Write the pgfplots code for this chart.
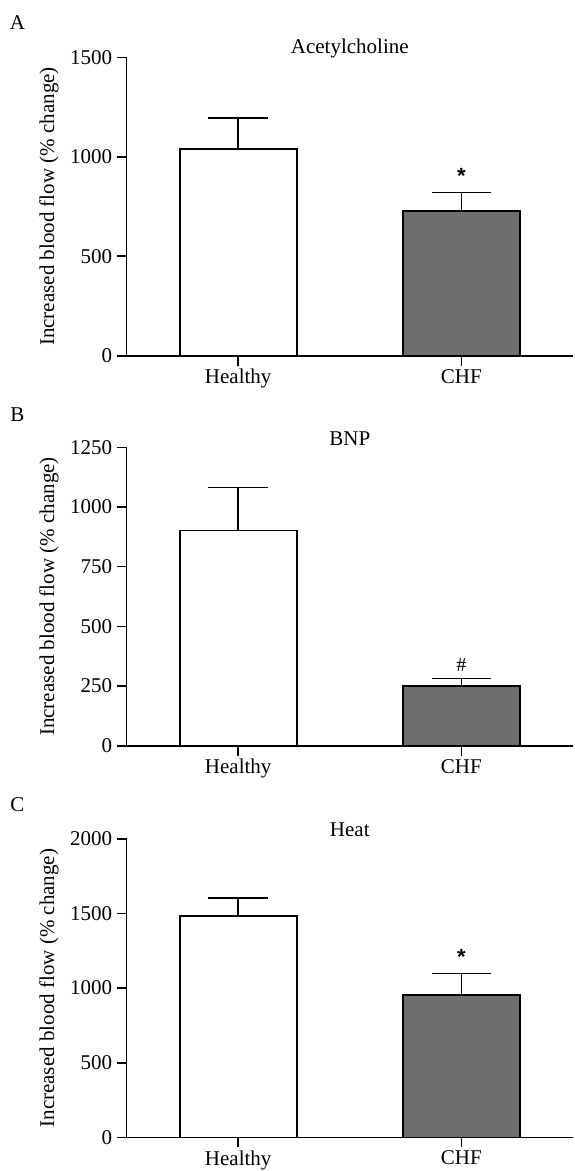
\documentclass[border=0pt]{standalone}
\usepackage{pgfplots}
\pgfplotsset{compat=1.18}
\usepackage{fontspec}
\setmainfont{Liberation Serif}
\newfontfamily\starfont{Liberation Sans}

\definecolor{chfgray}{HTML}{6E6E6E}

\pgfplotsset{
  panel/.style={
    scale only axis,
    width=446.4pt, height=298.4pt,
    xmin=-0.5, xmax=1.5, ymin=0,
    axis x line*=bottom, axis y line*=left,
    axis line style={line width=1.6pt},
    every tick/.style={line width=1.6pt, black},
    tick align=outside, major tick length=10pt,
    xtick={0,1}, xticklabels={Healthy,CHF},
    font=\fontsize{21}{24}\selectfont,
    /pgf/number format/assume math mode=true,
    /pgf/number format/1000 sep={},
    yticklabel style={xshift=-1pt},
    ylabel={Increased blood flow (\% change)},
    ylabel style={at={(axis description cs:-0.1738,0.5)}, anchor=center},
    title style={at={(axis description cs:0.5,1)}, anchor=center, yshift=3pt},
    clip=false,
  },
  hbar/.style={ybar, bar width=117pt, draw=black, line width=1.6pt,
    error bars/.cd, y dir=plus, y explicit,
    error bar style={line width=1.6pt, black},
    error mark options={line width=1.6pt, mark size=29.8pt, black, rotate=90},
    /pgfplots/.cd},
}

\begin{document}
\begin{tikzpicture}
\useasboundingbox (0pt,0pt) rectangle (574pt,-1171pt);

% Panel A
\node[font=\fontsize{21}{24}\selectfont, anchor=center] at (17.5pt,-23pt) {A};
\begin{axis}[panel, at={(126.6pt,-355.7pt)}, anchor=south west,
    ymax=1500, ytick={0,500,1000,1500}, title={Acetylcholine}]
  \addplot[hbar, fill=white] coordinates {(0,1040) +- (0,156)};
  \addplot[hbar, fill=chfgray] coordinates {(1,727) +- (0,94)};
  \node[font=\starfont\bfseries\fontsize{22}{22}\selectfont, anchor=base, yshift=9pt] at (axis cs:1,821) {*};
\end{axis}

% Panel B
\node[font=\fontsize{21}{24}\selectfont, anchor=center] at (17.5pt,-415pt) {B};
\begin{axis}[panel, at={(126.6pt,-745.7pt)}, anchor=south west,
    ymax=1250, ytick={0,250,500,750,1000,1250}, title={BNP}]
  \addplot[hbar, fill=white] coordinates {(0,902) +- (0,179)};
  \addplot[hbar, fill=chfgray] coordinates {(1,251) +- (0,31)};
  \node[font=\fontsize{20}{20}\selectfont, anchor=base, yshift=6.5pt] at (axis cs:1,282) {\#};
\end{axis}

% Panel C
\node[font=\fontsize{21}{24}\selectfont, anchor=center] at (17.5pt,-805pt) {C};
\begin{axis}[panel, at={(126.6pt,-1137.3pt)}, anchor=south west,
    ymax=2000, ytick={0,500,1000,1500,2000}, title={Heat}]
  \addplot[hbar, fill=white] coordinates {(0,1483) +- (0,119)};
  \addplot[hbar, fill=chfgray] coordinates {(1,952) +- (0,145)};
  \node[font=\starfont\bfseries\fontsize{22}{22}\selectfont, anchor=base, yshift=9pt] at (axis cs:1,1097) {*};
\end{axis}
\end{tikzpicture}
\end{document}
